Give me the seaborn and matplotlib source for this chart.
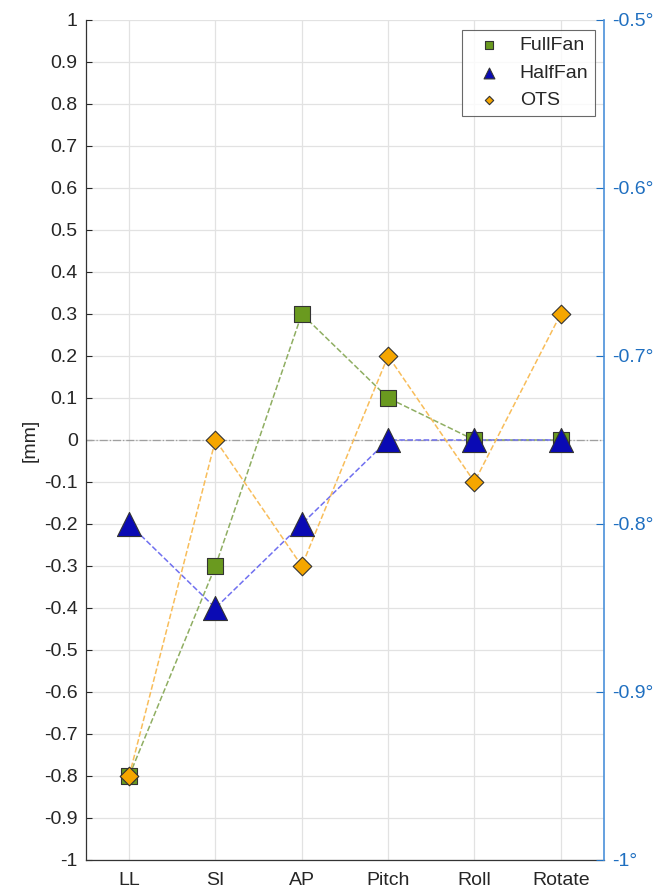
import numpy as np
import pandas as pd
import matplotlib
matplotlib.use('Agg')
import matplotlib.pyplot as plt
import seaborn as sns

categories = ['LL', 'SI', 'AP', 'Pitch', 'Roll', 'Rotate']
fullfan = [-0.8, -0.3, 0.3, 0.1, 0.0, 0.0]
halffan = [-0.2, -0.4, -0.2, 0.0, 0.0, 0.0]
ots = [-0.8, 0.0, -0.3, 0.2, -0.1, 0.3]
right_ticks = [-1.0, -0.9, -0.8, -0.7, -0.6, -0.5]

series = {
    'FullFan': dict(y=fullfan, marker='s', face='#6a9a1f', line='#8fae62', size=130),
    'HalfFan': dict(y=halffan, marker='^', face='#0a0ab4', line='#7070f0', size=300),
    'OTS': dict(y=ots, marker='D', face='#f5a600', line='#f8bd5a', size=90),
}

sns.set_style('white')
plt.rcParams['font.family'] = ['Liberation Sans', 'DejaVu Sans']

fig = plt.figure(figsize=(6.64, 8.92), dpi=100)
ax = fig.add_axes([0.1295, 0.0359, 0.78, 0.9417])

x = np.arange(1, len(categories) + 1)

ax.axhline(0, color='#a0a0a0', lw=0.9, ls='-.', zorder=1)

for name, s in series.items():
    df = pd.DataFrame({'x': x, 'y': s['y']})
    sns.lineplot(data=df, x='x', y='y', ax=ax, color=s['line'], lw=1.1,
                 dashes=False, linestyle='--', zorder=2, legend=False)
for name, s in series.items():
    df = pd.DataFrame({'x': x, 'y': s['y']})
    sns.scatterplot(data=df, x='x', y='y', ax=ax, marker=s['marker'], s=s['size'],
                    color=s['face'], edgecolor='#333333', linewidth=0.8,
                    zorder=3, label=name)

ax.set_xlim(0.5, 6.5)
ax.set_ylim(-1, 1)
ax.set_xticks(x)
ax.set_xticklabels(categories)
yt = np.round(np.arange(-1, 1.01, 0.1), 1)
ax.set_yticks(yt)
ax.set_yticklabels(['%g' % (v if v != 0 else 0) for v in yt])
ax.set_xlabel('')
ax.set_ylabel('[mm]', fontsize=14, labelpad=4)
ax.grid(True, color='#e2e2e2', lw=0.9)
ax.tick_params(axis='both', direction='in', length=4, labelsize=14,
               colors='#262626', pad=6)
ax.tick_params(axis='x', pad=9)
for side in ['top', 'right']:
    ax.spines[side].set_visible(False)
for side in ['left', 'bottom']:
    ax.spines[side].set_color('#333333')
    ax.spines[side].set_linewidth(0.9)

ax2 = ax.twinx()
ax2.set_ylim(-1, -0.5)
ax2.set_yticks(right_ticks)
ax2.set_yticklabels(['%g°' % v for v in right_ticks])
ax2.tick_params(axis='y', direction='in', length=6, labelsize=14,
                colors='#1f6fc0', pad=6)
for side in ['top', 'left', 'bottom']:
    ax2.spines[side].set_visible(False)
ax2.spines['right'].set_color('#4a90d9')
ax2.spines['right'].set_linewidth(1.2)

leg = ax.legend(loc='upper right', fontsize=14, frameon=True, fancybox=False,
                markerscale=0.45, handletextpad=0.6, borderpad=0.35,
                labelspacing=0.5, borderaxespad=0,
                bbox_to_anchor=(0.983, 0.988))
leg.get_frame().set_edgecolor('#444444')
leg.get_frame().set_linewidth(0.8)
leg.set_zorder(10)

fig.savefig('out.png', dpi=100)
